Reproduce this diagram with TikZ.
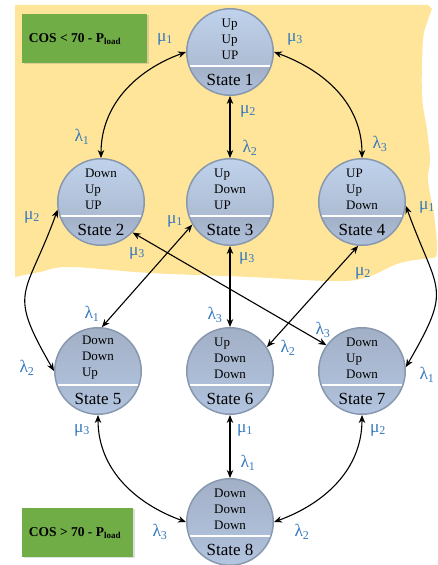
\documentclass[tikz,border=0pt]{standalone}
\usepackage{fontspec}
\setmainfont{Liberation Serif}
\usetikzlibrary{arrows.meta,shadows}
\definecolor{yel}{RGB}{255,229,153}
\definecolor{grn}{RGB}{112,173,71}
\definecolor{lbl}{RGB}{52,120,190}
\definecolor{bord}{RGB}{136,152,174}
\definecolor{cA}{RGB}{192,211,236}
\definecolor{cB}{RGB}{162,176,198}
\definecolor{cC}{RGB}{180,198,226}
\tikzset{
  stbase/.style={circle, minimum size=86.5pt, inner sep=0pt, draw=bord, line width=1.5pt},
  stup/.style={stbase, path picture={
      \shade[top color=cA, bottom color=cB] (path picture bounding box.north west) rectangle ([yshift=-14pt]path picture bounding box.east);
      \shade[top color=cB, bottom color=cC!80!cB] ([yshift=-14pt]path picture bounding box.west) rectangle (path picture bounding box.south east);
      \draw[white, line width=1.2pt] ([yshift=-14pt]path picture bounding box.west) -- ([yshift=-14pt]path picture bounding box.east);}},
  stdn/.style={stbase, path picture={
      \shade[top color=cB, bottom color=cC] (path picture bounding box.north west) rectangle ([yshift=-14pt]path picture bounding box.east);
      \shade[top color=cB!60!cC, bottom color=cC] ([yshift=-14pt]path picture bounding box.west) rectangle (path picture bounding box.south east);
      \draw[white, line width=1.2pt] ([yshift=-14pt]path picture bounding box.west) -- ([yshift=-14pt]path picture bounding box.east);}},
  sttxt/.style={align=left, inner sep=0pt, font=\fontsize{13}{16}\selectfont},
  stname/.style={inner sep=0pt, font=\fontsize{17}{19}\selectfont},
  arr/.style={line width=1.1pt, {Stealth[length=8pt,width=6.5pt]}-{Stealth[length=8pt,width=6.5pt]}},
  lab/.style={text=lbl, inner sep=0pt, font=\fontsize{17.5}{19}\selectfont},
  gbox/.style={fill=grn, draw=none, drop shadow={opacity=0.25, shadow xshift=1.5pt, shadow yshift=-1.5pt}},
  gtxt/.style={inner sep=0pt, font=\bfseries\fontsize{13.5}{15}\selectfont}
}
\newcommand{\lsub}[2]{#1\textsubscript{\fontsize{12}{13}\selectfont #2}}
\begin{document}
\begin{tikzpicture}[x=1pt,y=1pt]
\useasboundingbox (0,0) rectangle (438,565);
% yellow background
\fill[yel] (15,560) -- (428,560)
  -- plot[smooth, tension=0.6] coordinates {(432,556) (428,545) (423,525) (422,470) (427,435) (430,405) (428,385) (434,350) (437,320) (436,308)}
  -- plot[smooth, tension=0.6] coordinates {(433,307) (400,302) (365,287) (330,284) (250,288) (150,292) (70,298) (40,293) (15,288)}
  -- cycle;
% green boxes
\node[gbox, minimum width=125pt, minimum height=49pt, inner sep=0pt] (gtop) at (84.5,526.5) {};
\node[gtxt] (gtopt) at (75,526) {COS < 70 - P\textsubscript{\fontsize{9}{10}\selectfont load}};
\node[gbox, minimum width=111pt, minimum height=49pt, inner sep=0pt] (gbot) at (77.5,32.5) {};
\node[gtxt] (gbott) at (75,32) {COS > 70 - P\textsubscript{\fontsize{9}{10}\selectfont load}};
% states
\node[stup] (s1) at (230,513) {};
\node[stup] (s2) at (101,363) {};
\node[stup] (s3) at (230,363) {};
\node[stup] (s4) at (362,363) {};
\node[stdn] (s5) at (98,194) {};
\node[stdn] (s6) at (230,194) {};
\node[stdn] (s7) at (362,194) {};
\node[stdn] (s8) at (230,43) {};
\node[sttxt] (s1t) at ([yshift=13pt]s1.center) {Up\\Up\\UP};
\node[sttxt] (s2t) at ([yshift=13pt]s2.center) {Down\\Up\\UP};
\node[sttxt] (s3t) at ([yshift=13pt]s3.center) {Up\\Down\\UP};
\node[sttxt] (s4t) at ([yshift=13pt]s4.center) {UP\\Up\\Down};
\node[sttxt] (s5t) at ([yshift=13pt]s5.center) {Down\\Down\\Up};
\node[sttxt] (s6t) at ([yshift=13pt]s6.center) {Up\\Down\\Down};
\node[sttxt] (s7t) at ([yshift=13pt]s7.center) {Down\\Up\\Down};
\node[sttxt] (s8t) at ([yshift=13pt]s8.center) {Down\\Down\\Down};
\foreach \i in {1,...,8}{
  \node[stname] (s\i n) at ([yshift=-28pt]s\i.center) {State \i};
}
% connectors
\draw[arr] (s2.north) to[out=90, in=200] (s1.west);
\draw[arr] (s1.south) -- (s3.north);
\draw[arr] (s1.east) to[out=-20, in=90] (s4.north);
\draw[arr] (s2.190) to[out=250, in=120, looseness=1.5] (s5.west);
\draw[arr] (s3.211) -- (s5.85);
\draw[arr] (s2.-44) -- (s7.144);
\draw[arr] (s3.south) -- (s6.north);
\draw[arr] (s4.-95) -- (s6.33);
\draw[arr] (s4.-5) to[out=-70, in=60, looseness=1.5] (s7.5);
\draw[arr] (s5.south) to[out=-90, in=160] (s8.west);
\draw[arr] (s6.south) -- (s8.north);
\draw[arr] (s7.south) to[out=-90, in=20] (s8.east);
% labels
\node[lab] (l1) at (165,526) {\lsub{μ}{1}};
\node[lab] (l2) at (82,428) {\lsub{λ}{1}};
\node[lab] (l3) at (248,454) {\lsub{μ}{2}};
\node[lab] (l4) at (250,417) {\lsub{λ}{2}};
\node[lab] (l5) at (295,526) {\lsub{μ}{3}};
\node[lab] (l6) at (380,421) {\lsub{λ}{3}};
\node[lab] (l7) at (32,348) {\lsub{μ}{2}};
\node[lab] (l8) at (27,197) {\lsub{λ}{2}};
\node[lab] (l9) at (175,344) {\lsub{μ}{1}};
\node[lab] (l10) at (137,312) {\lsub{μ}{3}};
\node[lab] (l11) at (92,251) {\lsub{λ}{1}};
\node[lab] (l12) at (247,307) {\lsub{μ}{3}};
\node[lab] (l13) at (363,292) {\lsub{μ}{2}};
\node[lab] (l14) at (427,358) {\lsub{μ}{1}};
\node[lab] (l15) at (215,250) {\lsub{λ}{3}};
\node[lab] (l16) at (288,217) {\lsub{λ}{2}};
\node[lab] (l17) at (323,235) {\lsub{λ}{3}};
\node[lab] (l18) at (427,190) {\lsub{λ}{1}};
\node[lab] (l19) at (82,135) {\lsub{μ}{3}};
\node[lab] (l20) at (245,135) {\lsub{μ}{1}};
\node[lab] (l21) at (378,135) {\lsub{μ}{2}};
\node[lab] (l22) at (248,102) {\lsub{λ}{1}};
\node[lab] (l23) at (160,33) {\lsub{λ}{3}};
\node[lab] (l24) at (302,33) {\lsub{λ}{2}};
\end{tikzpicture}
\end{document}
